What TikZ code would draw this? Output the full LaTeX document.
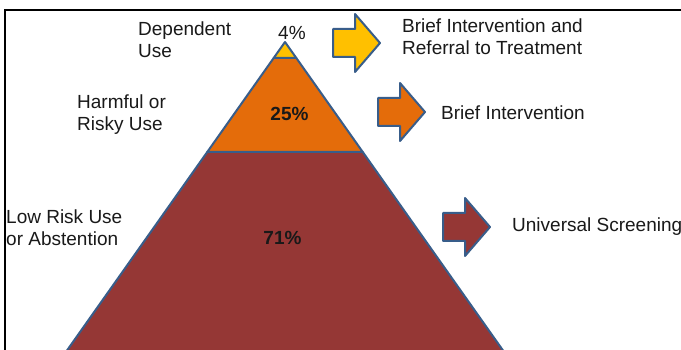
\documentclass[tikz,border=0pt]{standalone}
\usepackage{fontspec}
\setmainfont{Liberation Sans}
\usetikzlibrary{calc}
\definecolor{tipyellow}{RGB}{255,192,0}
\definecolor{midorange}{RGB}{228,108,10}
\definecolor{basered}{RGB}{149,55,53}
\definecolor{edgeblue}{RGB}{56,93,138}

\begin{document}
\begin{tikzpicture}[x=1pt,y=-1pt,
    lbl/.style={inner sep=0pt,align=left,text=black!90,font=\fontsize{19}{21.5}\selectfont},
    pct/.style={inner sep=0pt,text=black!90,font=\fontsize{19}{21.5}\selectfont\bfseries},
    edge/.style={draw=edgeblue,line width=2pt,line join=round}]
  \clip (0,0) rectangle (681,350);
  \fill[white] (0,0) rectangle (681,350);
  % Frame
  \draw[line width=2.5pt] (5,10) rectangle (700,370);

  % Pyramid
  \coordinate (apex) at (285,42);
  \coordinate (baseL) at (65.2,353);
  \coordinate (baseR) at (504.8,353);
  \coordinate (cutAL) at ($(apex)!0.0514!(baseL)$);
  \coordinate (cutAR) at ($(apex)!0.0514!(baseR)$);
  \coordinate (cutBL) at ($(apex)!0.3537!(baseL)$);
  \coordinate (cutBR) at ($(apex)!0.3537!(baseR)$);
  \filldraw[edge,fill=basered] (cutBL) -- (cutBR) -- (baseR) -- (baseL) -- cycle;
  \filldraw[edge,fill=midorange] (cutAL) -- (cutAR) -- (cutBR) -- (cutBL) -- cycle;
  \filldraw[edge,fill=tipyellow] (apex) -- (cutAR) -- (cutAL) -- cycle;

  % Levels
  \node[lbl,anchor=north west] (dep) at (138,22) {Dependent\\Use};
  \node[lbl,anchor=base west] (depPct) at (278,40) {4\%};
  \node[lbl,anchor=north west] (harm) at (77,95) {Harmful or\\Risky Use};
  \node[pct,anchor=base] (harmPct) at (289.5,121) {25\%};
  \node[lbl,anchor=north west] (low) at (6,210) {Low Risk Use\\or Abstention};
  \node[pct,anchor=base] (lowPct) at (282.5,245) {71\%};

  % Arrows
  \foreach \x/\y/\col in {333/43/tipyellow, 378/112/midorange, 443/227/basered} {
    \filldraw[edge,fill=\col] (\x,\y-14) -- (\x+22,\y-14) -- (\x+22,\y-29) -- (\x+47,\y)
      -- (\x+22,\y+29) -- (\x+22,\y+14) -- (\x,\y+14) -- cycle;
  }

  % Responses
  \node[lbl,anchor=north west] (briefRef) at (402,19) {Brief Intervention and\\Referral to Treatment};
  \node[lbl,anchor=base west] (brief) at (441,120) {Brief Intervention};
  \node[lbl,anchor=base west] (screen) at (512,232) {Universal Screening};
\end{tikzpicture}
\end{document}
